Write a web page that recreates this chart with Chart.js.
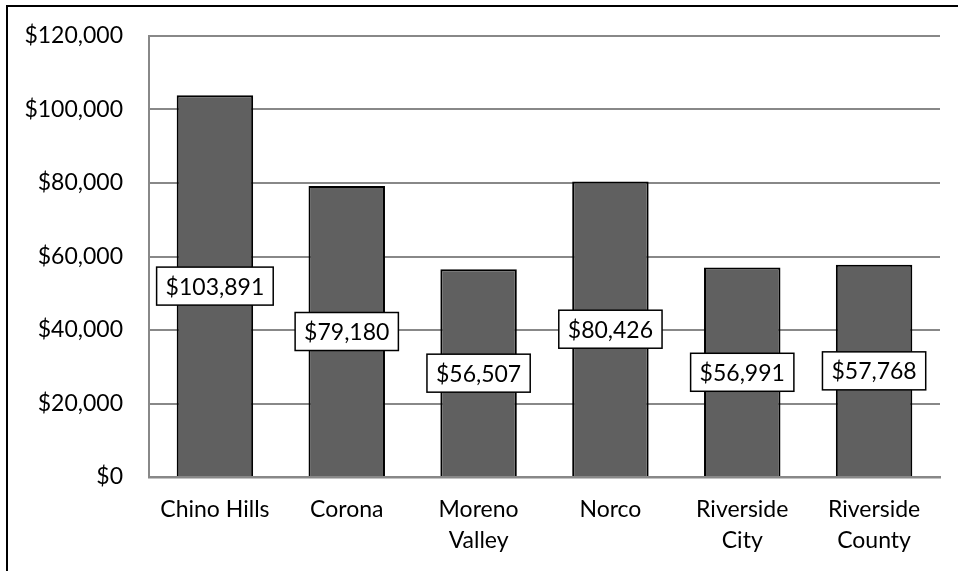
<!DOCTYPE html>
<html>
<head>
<meta charset="utf-8">
<script src="https://cdn.jsdelivr.net/npm/chart.js@4"></script>
<style>
  html, body { margin: 0; padding: 0; background: #fff; }
  #wrap { position: relative; width: 958px; height: 571px; }
  canvas { display: block; }
</style>
</head>
<body>
<div id="wrap"><canvas id="c" width="958" height="571"></canvas></div>
<script>
const categories = ["Chino Hills", "Corona", ["Moreno", "Valley"], "Norco", ["Riverside", "City"], ["Riverside", "County"]];
const incomeValues = [103891, 79180, 56507, 80426, 56991, 57768];
const yTickValues = [0, 20000, 40000, 60000, 80000, 100000, 120000];

const FONT = "Lato, 'Open Sans', sans-serif";
const fmt = v => "$" + v.toLocaleString("en-US");

const frame = {
  id: "frame",
  afterDraw(chart) {
    const ctx = chart.ctx;
    ctx.save();
    ctx.strokeStyle = "#000";
    ctx.lineWidth = 2;
    ctx.beginPath();
    ctx.moveTo(7, 571);
    ctx.lineTo(7, 6);
    ctx.lineTo(958, 6);
    ctx.stroke();
    ctx.restore();
  }
};

const valueBoxes = {
  id: "valueBoxes",
  afterDatasetsDraw(chart) {
    const ctx = chart.ctx;
    const meta = chart.getDatasetMeta(0);
    const yScale = chart.scales.y;
    ctx.save();
    ctx.font = "23px " + FONT;
    ctx.textAlign = "center";
    ctx.textBaseline = "middle";
    meta.data.forEach((bar, i) => {
      const v = chart.data.datasets[0].data[i];
      const cx = bar.x;
      const cy = (bar.y + yScale.getPixelForValue(0)) / 2;
      const txt = fmt(v);
      const w = ctx.measureText(txt).width + 18;
      const h = 38;
      ctx.fillStyle = "#fff";
      ctx.fillRect(cx - w / 2, cy - h / 2, w, h);
      ctx.strokeStyle = "#000";
      ctx.lineWidth = 1.5;
      ctx.strokeRect(cx - w / 2, cy - h / 2, w, h);
      ctx.fillStyle = "#000";
      ctx.fillText(txt, cx, cy + 1);
    });
    ctx.restore();
  }
};

new Chart(document.getElementById("c"), {
  type: "bar",
  data: {
    labels: categories,
    datasets: [{
      data: incomeValues,
      backgroundColor: "#606060",
      borderColor: "#000",
      borderWidth: 2,
      borderSkipped: "bottom",
      categoryPercentage: 1,
      barPercentage: 0.58
    }]
  },
  options: {
    responsive: false,
    animation: false,
    devicePixelRatio: 1,
    layout: { padding: { left: 0, right: 18, top: 36, bottom: 0 } },
    plugins: { legend: { display: false }, tooltip: { enabled: false } },
    scales: {
      x: {
        afterFit(s) { s.height = 94; s.paddingLeft = 0; s.paddingRight = 0; },
        grid: { display: false, drawTicks: false },
        border: { display: true, color: "#888", width: 2.5 },
        ticks: {
          color: "#000",
          padding: 17,
          maxRotation: 0,
          autoSkip: false,
          font: { family: FONT, size: 23, lineHeight: 1.35 }
        }
      },
      y: {
        min: 0,
        max: 120000,
        afterFit(s) { s.width = 149; s.paddingTop = 0; s.paddingBottom = 0; },
        afterBuildTicks(s) { s.ticks = yTickValues.map(v => ({ value: v })); },
        grid: { color: "#888", lineWidth: 2, drawTicks: false },
        border: { display: true, color: "#888", width: 2 },
        ticks: {
          color: "#000",
          padding: 26,
          font: { family: FONT, size: 23 },
          callback: v => fmt(v)
        }
      }
    }
  },
  plugins: [valueBoxes, frame]
});
</script>
</body>
</html>
